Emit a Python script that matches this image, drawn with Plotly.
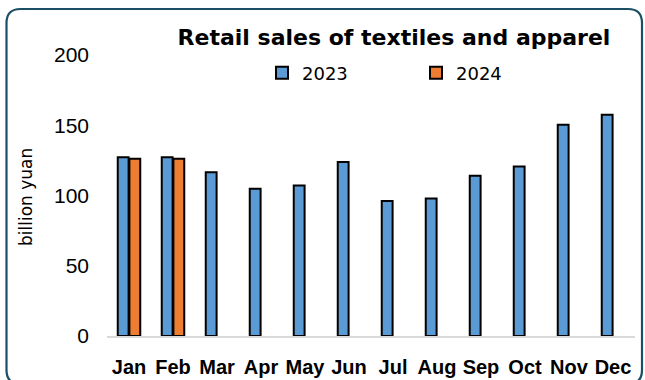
import plotly.graph_objects as go

months = ["Jan", "Feb", "Mar", "Apr", "May", "Jun", "Jul", "Aug", "Sep", "Oct", "Nov", "Dec"]
sales_2023 = [127.3, 127.3, 116.6, 104.8, 107.2, 123.8, 96.0, 97.9, 114.1, 120.7, 150.4, 157.5]
sales_2024 = [126.2, 126.2, None, None, None, None, None, None, None, None, None, None]
y_ticks = [0, 50, 100, 150, 200]

BLUE = "#5B9BD5"
ORANGE = "#ED7D31"
SANS = "Liberation Sans"
WIDE = "DejaVu Sans"

W, H = 645, 380
L, R, T, B = 107, 10, 55, 44
PX0, PX1 = L, W - R
PY0, PY1 = T, H - B


def px(x):
    return (x - PX0) / (PX1 - PX0)


def py(y):
    return (PY1 - y) / (PY1 - PY0)


fig = go.Figure()
fig.add_trace(go.Bar(
    name="2023", x=months, y=sales_2023,
    marker=dict(color=BLUE, line=dict(color="black", width=2)),
))
fig.add_trace(go.Bar(
    name="2024", x=months, y=sales_2024,
    marker=dict(color=ORANGE, line=dict(color="black", width=2)),
))

# rounded frame around the whole chart
x0, x1, y0, y1, r = 6.5, 642, 9, 384, 14
path = (
    f"M {px(x0 + r)},{py(y0)} L {px(x1 - r)},{py(y0)} "
    f"Q {px(x1)},{py(y0)} {px(x1)},{py(y0 + r)} "
    f"L {px(x1)},{py(y1 - r)} Q {px(x1)},{py(y1)} {px(x1 - r)},{py(y1)} "
    f"L {px(x0 + r)},{py(y1)} Q {px(x0)},{py(y1)} {px(x0)},{py(y1 - r)} "
    f"L {px(x0)},{py(y0 + r)} Q {px(x0)},{py(y0)} {px(x0 + r)},{py(y0)} Z"
)

fig.update_layout(
    width=W, height=H,
    margin=dict(l=L, r=R, t=T, b=B, autoexpand=False),
    paper_bgcolor="white", plot_bgcolor="white",
    barmode="group", bargap=0.47, bargroupgap=0.07,
    font=dict(family=SANS, color="black"),
    title=dict(
        text="Retail sales of textiles and apparel",
        font=dict(family=WIDE, size=22, weight="bold", color="black"),
        x=394 / W, xanchor="center", y=1 - 37 / H, yanchor="middle",
    ),
    showlegend=True,
    legend=dict(
        orientation="h", x=px(262), xanchor="left", y=py(73), yanchor="middle",
        font=dict(family=WIDE, size=18, color="black"),
        entrywidth=109, itemwidth=30, bgcolor="rgba(0,0,0,0)",
    ),
    xaxis=dict(
        automargin=False,
        showgrid=False, showline=True, linecolor="#D9D9D9", linewidth=1.5,
        ticks="", tickfont=dict(family=SANS, size=20, weight="bold", color="black"),
        ticklabelstandoff=12,
    ),
    yaxis=dict(
        automargin=False,
        range=[0, 200], tickvals=y_ticks, showgrid=False, zeroline=False,
        showline=False, ticks="", tickfont=dict(family=SANS, size=21, color="black"),
        ticklabelstandoff=17,
    ),
    shapes=[dict(type="path", path=path, xref="paper", yref="paper",
                 line=dict(color="#1B4F66", width=2.2), layer="above")],
    annotations=[dict(
        text="billion yuan", textangle=-90, x=px(26), y=py(197),
        xref="paper", yref="paper", xanchor="center", yanchor="middle",
        showarrow=False, font=dict(family=WIDE, size=17, color="black"),
    )],
)

fig.write_html("out.html")
